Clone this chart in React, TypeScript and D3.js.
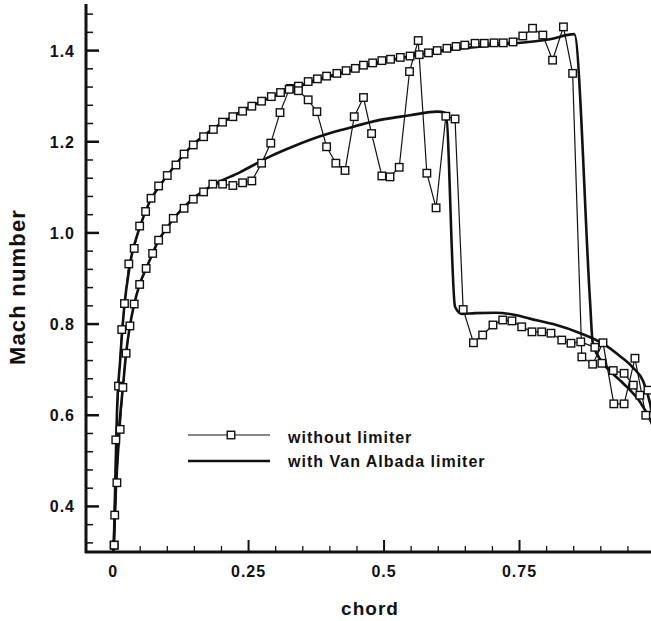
import React from "react";
import * as d3 from "d3";

// without limiter, upper surface (square markers)
const upperNoLimChord = [
  0.002, 0.003, 0.005, 0.010, 0.016, 0.021, 0.029, 0.039, 0.049, 0.060, 0.070, 0.084,
  0.100, 0.116, 0.131, 0.148, 0.167, 0.185, 0.202, 0.221, 0.239, 0.256, 0.274, 0.292,
  0.309, 0.327, 0.342, 0.360, 0.377, 0.394, 0.413, 0.430, 0.447, 0.462, 0.479, 0.496,
  0.512, 0.530, 0.548, 0.565, 0.582, 0.598, 0.616, 0.633, 0.649, 0.668, 0.685, 0.703,
  0.720, 0.738, 0.756, 0.774, 0.793, 0.811, 0.831, 0.848, 0.865, 0.885, 0.904, 0.924,
  0.943, 0.963, 0.983,
];
const upperNoLimMach = [
  0.315, 0.381, 0.546, 0.664, 0.788, 0.845, 0.932, 0.966, 1.015, 1.047, 1.076, 1.103,
  1.126, 1.149, 1.173, 1.193, 1.211, 1.227, 1.243, 1.255, 1.267, 1.278, 1.289, 1.299,
  1.308, 1.317, 1.322, 1.332, 1.338, 1.344, 1.35, 1.356, 1.361, 1.368, 1.373, 1.378,
  1.381, 1.385, 1.388, 1.391, 1.395, 1.4, 1.405, 1.409, 1.412, 1.416, 1.416, 1.417,
  1.417, 1.419, 1.432, 1.449, 1.434, 1.379, 1.452, 1.35, 0.728, 0.712, 0.759, 0.625,
  0.625, 0.725, 0.6,
];

// without limiter, lower surface (square markers)
const lowerNoLimChord = [
  0.002, 0.007, 0.013, 0.018, 0.024, 0.031, 0.039, 0.049, 0.061, 0.073, 0.084, 0.098,
  0.111, 0.131, 0.148, 0.167, 0.184, 0.202, 0.221, 0.239, 0.256, 0.274, 0.291, 0.308,
  0.325, 0.342, 0.360, 0.376, 0.394, 0.411, 0.428, 0.445, 0.462, 0.477, 0.496, 0.511,
  0.528, 0.547, 0.563, 0.579, 0.596, 0.614, 0.631, 0.646, 0.665, 0.682, 0.701, 0.719,
  0.736, 0.754, 0.773, 0.791, 0.808, 0.828, 0.845, 0.863, 0.889, 0.902, 0.923, 0.943,
  0.960, 0.972, 0.987,
];
const lowerNoLimMach = [
  0.315, 0.452, 0.569, 0.661, 0.736, 0.796, 0.844, 0.887, 0.922, 0.955, 0.984, 1.009,
  1.032, 1.054, 1.074, 1.09, 1.107, 1.107, 1.104, 1.11, 1.114, 1.153, 1.197, 1.264,
  1.315, 1.312, 1.292, 1.266, 1.189, 1.153, 1.137, 1.255, 1.297, 1.218, 1.125, 1.123,
  1.144, 1.354, 1.422, 1.131, 1.055, 1.256, 1.25, 0.832, 0.759, 0.776, 0.798, 0.809,
  0.807, 0.794, 0.783, 0.783, 0.78, 0.765, 0.758, 0.761, 0.749, 0.714, 0.698, 0.692,
  0.666, 0.644, 0.655,
];

// with Van Albada limiter, upper surface
const upperLimChord = [
  0.001, 0.004, 0.007, 0.013, 0.020, 0.031, 0.050, 0.068, 0.087, 0.114, 0.147, 0.184,
  0.234, 0.290, 0.345, 0.400, 0.456, 0.529, 0.622, 0.714, 0.806, 0.851, 0.880, 0.885,
  0.899, 0.917, 0.936, 0.954, 0.973, 0.991, 0.998,
];
const upperLimMach = [
  0.30, 0.45, 0.60, 0.72, 0.83, 0.93, 1.015, 1.07, 1.105, 1.148, 1.193, 1.228,
  1.265, 1.297, 1.322, 1.343, 1.362, 1.383, 1.402, 1.413, 1.425, 1.436, 0.853, 0.76,
  0.722, 0.697, 0.676, 0.655, 0.628, 0.59, 0.57,
];

// with Van Albada limiter, lower surface
const lowerLimChord = [
  0.001, 0.005, 0.011, 0.018, 0.024, 0.031, 0.039, 0.049, 0.061, 0.073, 0.084, 0.098,
  0.114, 0.147, 0.184, 0.234, 0.290, 0.339, 0.382, 0.428, 0.493, 0.548, 0.598, 0.614,
  0.631, 0.644, 0.668, 0.705, 0.742, 0.769, 0.812, 0.862, 0.904, 0.935, 0.959, 0.978,
  0.991, 0.998,
];
const lowerLimMach = [
  0.30, 0.45, 0.57, 0.66, 0.736, 0.796, 0.844, 0.887, 0.922, 0.955, 0.984, 1.009,
  1.035, 1.075, 1.105, 1.133, 1.168, 1.193, 1.212, 1.228, 1.248, 1.258, 1.266, 1.263,
  0.838, 0.822, 0.824, 0.825, 0.82, 0.812, 0.8, 0.78, 0.757, 0.73, 0.705, 0.675,
  0.625, 0.575,
];

const xTicks = [0, 0.25, 0.5, 0.75];
const xTickLabels = ["0", "0.25", "0.5", "0.75"];
const yTicks = [0.4, 0.6, 0.8, 1.0, 1.2, 1.4];
const yTickLabels = ["0.4", "0.6", "0.8", "1.0", "1.2", "1.4"];
const legendLabels = ["without limiter", "with Van Albada limiter"];

const W = 651;
const H = 621;
const ink = "#111";
const font = "'Liberation Sans', Arial, Helvetica, sans-serif";

export default function App() {
  const x = d3.scaleLinear().domain([-0.05, 1.0]).range([86, 655]);
  const y = d3.scaleLinear().domain([0.3, 1.5]).range([552, 5]);

  const zip = (cx: number[], my: number[]) => cx.map((c, i) => [c, my[i]] as [number, number]);
  const upperNL = zip(upperNoLimChord, upperNoLimMach);
  const lowerNL = zip(lowerNoLimChord, lowerNoLimMach);
  const upperL = zip(upperLimChord, upperLimMach);
  const lowerL = zip(lowerLimChord, lowerLimMach);

  const thinLine = d3.line<[number, number]>().x(d => x(d[0])).y(d => y(d[1]));
  const smoothLine = d3
    .line<[number, number]>()
    .x(d => x(d[0]))
    .y(d => y(d[1]))
    .curve(d3.curveMonotoneX);

  const xMinor = d3.range(0.05, 0.99, 0.05).filter(v => !xTicks.some(t => Math.abs(t - v) < 1e-6));
  const yMinor = d3.range(0.32, 1.5, 0.04).filter(v => !yTicks.some(t => Math.abs(t - v) < 1e-6));

  const sq = 7.5;
  const square = (d: [number, number], i: number) => (
    <rect
      key={i}
      x={x(d[0]) - sq / 2}
      y={y(d[1]) - sq / 2}
      width={sq}
      height={sq}
      fill="#fff"
      stroke={ink}
      strokeWidth={1.4}
    />
  );

  return (
    <svg
      width={W}
      height={H}
      style={{ position: "absolute", left: 0, top: 0, display: "block", background: "#fff" }}
      fontFamily={font}
    >
      <rect width={W} height={H} fill="#fff" />
      <defs>
        <clipPath id="plot">
          <rect x={86} y={0} width={W - 86} height={552} />
        </clipPath>
      </defs>

      {/* axes */}
      <line x1={86} y1={4} x2={86} y2={553} stroke={ink} strokeWidth={3} />
      <line x1={85} y1={552} x2={W} y2={552} stroke={ink} strokeWidth={3} />
      {yTicks.map(t => (
        <line key={"yM" + t} x1={86} x2={99} y1={y(t)} y2={y(t)} stroke={ink} strokeWidth={2.5} />
      ))}
      {yMinor.map(t => (
        <line key={"ym" + t} x1={86} x2={93} y1={y(t)} y2={y(t)} stroke={ink} strokeWidth={1.5} />
      ))}
      {xTicks.map(t => (
        <line key={"xM" + t} x1={x(t)} x2={x(t)} y1={552} y2={540} stroke={ink} strokeWidth={2} />
      ))}
      {xMinor.map(t => (
        <line key={"xm" + t} x1={x(t)} x2={x(t)} y1={552} y2={546} stroke={ink} strokeWidth={1.3} />
      ))}
      {yTicks.map((t, i) => (
        <text
          key={"yl" + t}
          x={75}
          y={y(t) + 6}
          textAnchor="end"
          fontSize={16}
          fontWeight="bold"
          letterSpacing={1}
          fill={ink}
        >
          {yTickLabels[i]}
        </text>
      ))}
      {xTicks.map((t, i) => (
        <text
          key={"xl" + t}
          x={x(t)}
          y={577}
          textAnchor="middle"
          fontSize={16}
          fontWeight="bold"
          letterSpacing={1}
          fill={ink}
        >
          {xTickLabels[i]}
        </text>
      ))}
      <text x={370} y={615} textAnchor="middle" fontSize={19} fontWeight="bold" letterSpacing={1} fill={ink}>
        chord
      </text>
      <text
        transform="translate(25,287) rotate(-90)"
        textAnchor="middle"
        fontSize={22}
        fontWeight="bold"
        letterSpacing={1.2}
        fill={ink}
      >
        Mach number
      </text>

      {/* data */}
      <g clipPath="url(#plot)">
        <path d={smoothLine(upperL) || ""} fill="none" stroke={ink} strokeWidth={2.6} />
        <path d={smoothLine(lowerL) || ""} fill="none" stroke={ink} strokeWidth={2.6} />
        <path d={thinLine(upperNL) || ""} fill="none" stroke={ink} strokeWidth={1.2} />
        <path d={thinLine(lowerNL) || ""} fill="none" stroke={ink} strokeWidth={1.2} />
        <g>{upperNL.map(square)}</g>
        <g>{lowerNL.map((d, i) => square(d, i + 1000))}</g>
      </g>

      {/* legend */}
      <g>
        <line x1={188} x2={270} y1={435} y2={435} stroke={ink} strokeWidth={1.2} />
        <rect x={231 - sq / 2} y={435 - sq / 2} width={sq} height={sq} fill="#fff" stroke={ink} strokeWidth={1.4} />
        <text x={288} y={443} fontSize={16} fontWeight="bold" letterSpacing={1} fill={ink}>
          {legendLabels[0]}
        </text>
        <line x1={188} x2={270} y1={461} y2={461} stroke={ink} strokeWidth={2.6} />
        <text x={288} y={467} fontSize={16} fontWeight="bold" letterSpacing={1} fill={ink}>
          {legendLabels[1]}
        </text>
      </g>
    </svg>
  );
}
